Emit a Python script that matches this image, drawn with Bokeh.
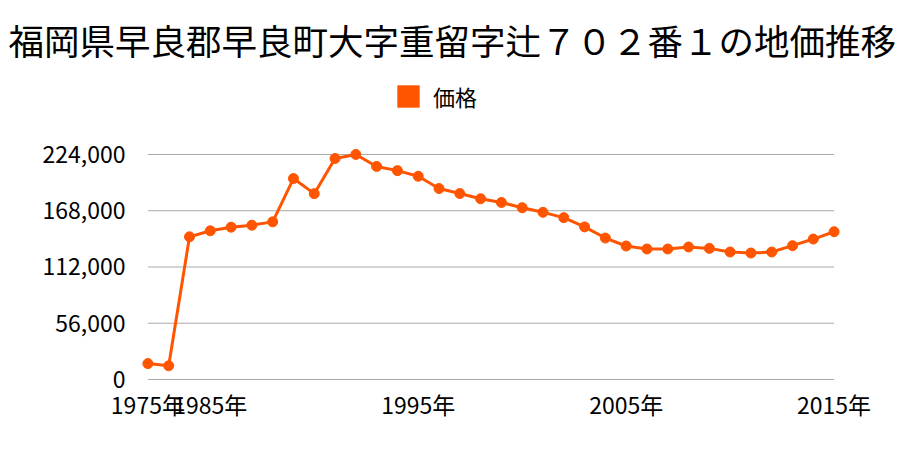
from bokeh.plotting import figure
from bokeh.models import (Range1d, FixedTicker, NumeralTickFormatter, Title, Legend, LegendItem,
                          ColumnDataSource)
from bokeh.embed import file_html
from bokeh.resources import INLINE

title_text = "福岡県早良郡早良町大字重留字辻７０２番１の地価推移"
series_name = "価格"
years = [1975] + list(range(1983, 2016))
prices = [15800, 13600, 142000, 148000, 151600, 153600, 156900, 200000, 185000, 220000,
          224000, 212100, 207900, 202300, 190100, 185100, 179900, 176200, 171000, 166400,
          161100, 151900, 140800, 132900, 129900, 129900, 131900, 130500, 126900, 125900,
          126900, 133200, 139800, 147100]
y_ticks = [0, 56000, 112000, 168000, 224000]
x_tick_years = [1975, 1985, 1995, 2005, 2015]

FONT = "Noto Sans CJK JP"
COLOR = "#ff5500"
TEXT = "#000000"
NAN = float("nan")

idx = list(range(len(years)))
src = ColumnDataSource(dict(x=idx, y=prices))

p = figure(width=900, height=450, output_backend="svg", toolbar_location=None,
           x_range=Range1d(-0.5, len(years) - 0.5), y_range=Range1d(-5000, 307600),
           min_border_left=137, min_border_right=56, min_border_bottom=66, min_border_top=70)
p.outline_line_color = None
p.background_fill_color = "white"
p.border_fill_color = "white"

p.title = Title(text=title_text, align="left", offset=-129, text_font=FONT,
                text_font_size="35.5px", text_font_style="normal", text_color=TEXT,
                standoff=12)

# grid lines drawn from data across the category span
p.xgrid.visible = False
p.ygrid.visible = False
p.segment(x0=[0] * len(y_ticks), x1=[len(years) - 1] * len(y_ticks), y0=y_ticks, y1=y_ticks,
          line_color="#aaaaaa", line_width=1)

p.line("x", "y", source=src, line_color=COLOR, line_width=3)
p.scatter("x", "y", source=src, size=10, fill_color=COLOR, line_color=COLOR)

# legend swatch: a glyph with no visible extent, used only for the legend entry
dummy = p.quad(left=[NAN], right=[NAN], top=[NAN], bottom=[NAN], fill_color=COLOR, line_color=None)
legend = Legend(items=[LegendItem(label=series_name, renderers=[dummy], index=0)],
                orientation="horizontal", location=(257, 272),
                glyph_width=28, glyph_height=28, label_text_font=FONT, label_text_font_size="22px",
                label_text_color=TEXT,
                label_standoff=11, border_line_alpha=0, background_fill_alpha=0,
                padding=0, margin=0, spacing=0, label_height=28)
p.add_layout(legend)

ya = p.yaxis[0]
ya.ticker = FixedTicker(ticks=y_ticks)
ya.formatter = NumeralTickFormatter(format="0,0")
ya.axis_line_color = None
ya.major_tick_line_color = None
ya.minor_tick_line_color = None
ya.major_label_text_font = FONT
ya.major_label_text_font_size = "23px"
ya.major_label_text_color = TEXT
ya.major_label_standoff = 6

xa = p.xaxis[0]
xa.ticker = FixedTicker(ticks=[years.index(y) for y in x_tick_years])
xa.major_label_overrides = {years.index(y): f"{y}年" for y in x_tick_years}
xa.axis_line_color = None
xa.major_tick_line_color = None
xa.minor_tick_line_color = None
xa.major_label_text_font = FONT
xa.major_label_text_font_size = "23px"
xa.major_label_text_color = TEXT
xa.major_label_standoff = -4

open("out.html", "w").write(file_html(p, INLINE))
